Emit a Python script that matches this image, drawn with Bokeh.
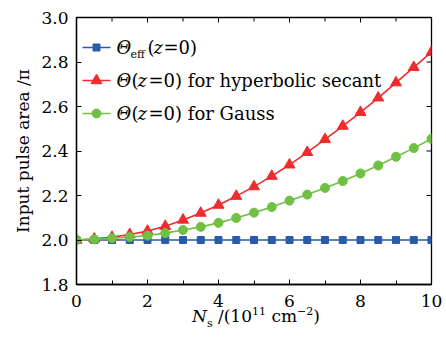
import math
from bokeh.plotting import figure
from bokeh.models import (Range1d, FixedTicker, Label, NumeralTickFormatter, Div)
from bokeh.layouts import column
from bokeh.embed import file_html
from bokeh.resources import INLINE

# ---- data ----
ns = [0.0, 0.5, 1.0, 1.5, 2.0, 2.5, 3.0, 3.5, 4.0, 4.5, 5.0,
      5.5, 6.0, 6.5, 7.0, 7.5, 8.0, 8.5, 9.0, 9.5, 10.0]
theta_eff = [2.0, 2.0, 2.0, 2.0, 2.0, 2.0, 2.0, 2.0, 2.0, 2.0, 2.0,
             2.0, 2.0, 2.0, 2.0, 2.0, 2.0, 2.0, 2.0, 2.0, 2.0]
theta_sech = [2.000, 2.005, 2.013, 2.025, 2.040, 2.062, 2.090, 2.121, 2.157, 2.197, 2.240,
              2.287, 2.338, 2.394, 2.452, 2.512, 2.574, 2.639, 2.707, 2.776, 2.844]
theta_gauss = [2.000, 2.003, 2.008, 2.013, 2.020, 2.031, 2.045, 2.059, 2.077, 2.099, 2.123,
               2.148, 2.177, 2.204, 2.234, 2.265, 2.299, 2.335, 2.374, 2.413, 2.455]
x_ticks = [0, 2, 4, 6, 8, 10]
x_minor_ticks = [1, 3, 5, 7, 9]
y_ticks = [1.8, 2.0, 2.2, 2.4, 2.6, 2.8, 3.0]
X0, X1 = 0, 10
Y0, Y1 = 1.8, 3.0

FONT = "DejaVu Serif"
BLUE = "#2b5aaa"
RED = "#ef2b2d"
GREEN = "#70c043"

# frame geometry (canvas px)
FL, FT, FR, FB = 76, 17, 431, 284
W, H = 446, 312

p = figure(width=W, height=H, output_backend="svg", toolbar_location=None,
           x_range=Range1d(X0, X1), y_range=Range1d(Y0, Y1),
           min_border_left=FL, min_border_right=W - FR, min_border_top=FT,
           min_border_bottom=H - FB, background_fill_color="white",
           border_fill_color="white")
p.grid.visible = False
p.outline_line_color = "black"
p.outline_line_width = 1.3


def style_axis(ax, ticker):
    ax.ticker = ticker
    ax.axis_line_color = "black"
    ax.axis_line_width = 1.3
    ax.major_tick_in = 5
    ax.major_tick_out = 0
    ax.minor_tick_in = 4
    ax.minor_tick_out = 0
    ax.major_tick_line_color = "black"
    ax.minor_tick_line_color = "black"
    ax.major_label_text_font = FONT
    ax.major_label_text_color = "black"
    ax.major_label_text_font_size = "17px"


style_axis(p.xaxis[0], FixedTicker(ticks=x_ticks, minor_ticks=x_minor_ticks))
p.xaxis[0].major_label_standoff = 10
style_axis(p.yaxis[0], FixedTicker(ticks=y_ticks))
p.yaxis[0].formatter = NumeralTickFormatter(format="0.0")
p.yaxis[0].major_label_standoff = 8
p.yaxis[0].axis_label = "Input pulse area /π"
p.yaxis[0].axis_label_text_font = FONT
p.yaxis[0].axis_label_text_font_size = "17px"
p.yaxis[0].axis_label_text_font_style = "normal"
p.yaxis[0].axis_label_text_color = "black"
p.yaxis[0].axis_label_standoff = 5

# mirrored inward ticks on top and right edges
p.ray(x=x_ticks, y=[Y1] * len(x_ticks), length=5, length_units="screen",
      angle=-math.pi / 2, color="black", line_width=1)
p.ray(x=x_minor_ticks, y=[Y1] * len(x_minor_ticks), length=4, length_units="screen",
      angle=-math.pi / 2, color="black", line_width=1)
p.ray(x=[X1] * len(y_ticks), y=y_ticks, length=5, length_units="screen",
      angle=math.pi, color="black", line_width=1)

# ---- series ----
p.line(ns, theta_eff, color=BLUE, line_width=1.6)
p.scatter(ns, theta_eff, marker="square", size=7, color=BLUE)
p.line(ns, theta_sech, color=RED, line_width=1.6)
p.scatter(ns, theta_sech, marker="triangle", size=11, color=RED)
p.line(ns, theta_gauss, color=GREEN, line_width=1.6)
p.scatter(ns, theta_gauss, marker="circle", size=9, color=GREEN)


# ---- legend (samples placed in canvas px, converted via the ranges) ----
def dx(cx):
    return X0 + (cx - FL) / (FR - FL) * (X1 - X0)


def dy(cy):
    return Y0 + (FB - cy) / (FB - FT) * (Y1 - Y0)


rows = [47, 80, 113]
styles = [(BLUE, "square", 7), (RED, "triangle", 11), (GREEN, "circle", 9)]
for cy, (col, mk, sz) in zip(rows, styles):
    p.line([dx(82), dx(110)], [dy(cy), dy(cy)], color=col, line_width=1.6)
    p.scatter([dx(96)], [dy(cy)], marker=mk, size=sz, color=col)


def txt(s, cx, cy, size="18px", style="normal"):
    p.add_layout(Label(x=cx - FL, y=FB - cy, x_units="screen", y_units="screen",
                       text=s, text_font=FONT, text_font_size=size,
                       text_font_style=style, text_color="black",
                       text_baseline="middle", text_align="left"))


# row 1: Θ_eff(z=0)
txt("Θ", 116, rows[0], style="italic")
txt("eff", 130, rows[0] + 7, size="11px")
txt("(", 147, rows[0])
txt("z", 153, rows[0], style="italic")
txt("=0)", 163, rows[0])
# rows 2 and 3
for r, rest in ((rows[1], "=0) for hyperbolic secant"), (rows[2], "=0) for Gauss")):
    txt("Θ", 116, r, style="italic")
    txt("(", 131, r)
    txt("z", 137, r, style="italic")
    txt(rest, 148, r)

# ---- x-axis label as rich text below the plot ----
xlabel_html = (
    '<div style="box-sizing:border-box;font-family:\'DejaVu Serif\',serif;font-size:17px;'
    'line-height:20px;color:#000;text-align:center;padding-left:66px;width:446px;'
    'white-space:nowrap">'
    '<i>N</i><span style="font-size:11px;line-height:0;vertical-align:-5px">s</span>'
    ' /(10<span style="font-size:11px;line-height:0;vertical-align:7px">11</span>'
    ' cm<span style="font-size:11px;line-height:0;vertical-align:7px">−2</span>)</div>'
)
xlabel = Div(text=xlabel_html, width=W, height=338 - H + 6, margin=(-6, 0, 0, 0))

layout = column(p, xlabel, spacing=0)
open("out.html", "w").write(file_html(layout, INLINE))
